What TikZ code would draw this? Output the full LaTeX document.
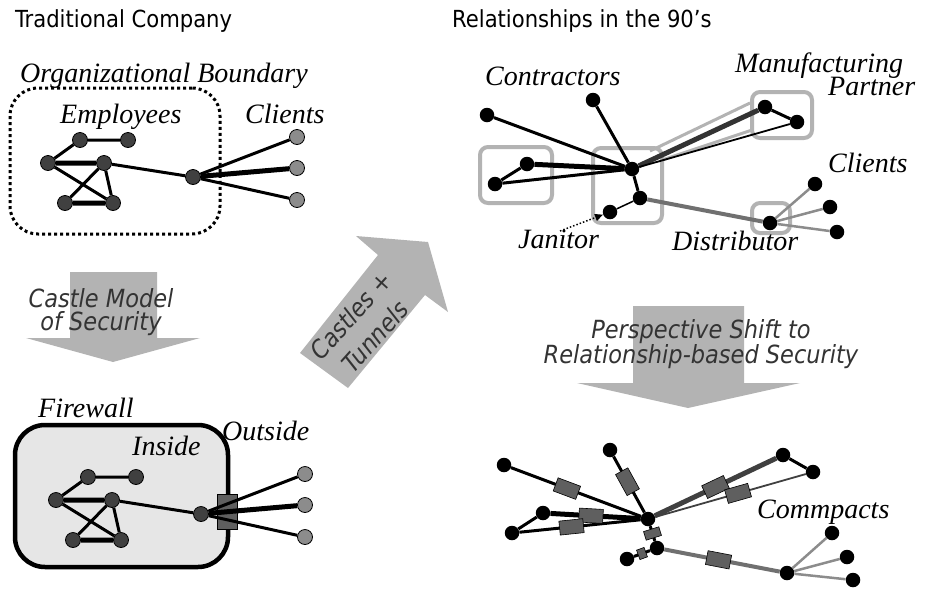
\documentclass[tikz,border=0pt]{standalone}
\usepackage{fontspec}
\setmainfont{Liberation Serif}
\newfontfamily\uifont{DejaVu Sans Condensed}
\usetikzlibrary{arrows.meta}

\definecolor{nodegray}{HTML}{404040}
\definecolor{clientgray}{HTML}{8C8C8C}
\definecolor{arrowgray}{HTML}{B3B3B3}
\definecolor{boxgray}{HTML}{B3B3B3}
\definecolor{textgray}{HTML}{333333}
\definecolor{fwfill}{HTML}{E6E6E6}
\definecolor{pactgray}{HTML}{5F5F5F}
\definecolor{darkline}{HTML}{333333}
\definecolor{distgray}{HTML}{707070}
\definecolor{cligray}{HTML}{8C8C8C}

\begin{document}
\begin{tikzpicture}[x=1pt, y=-1pt,
  emp/.style={circle, draw=black, line width=0.8, fill=nodegray, minimum size=15, inner sep=0},
  cli/.style={emp, fill=clientgray},
  blk/.style={circle, fill=black, minimum size=14.5, inner sep=0},
  edge/.style={line width=3},
  heavy/.style={line width=5},
  gbox/.style={draw=boxgray, line width=4, rounded corners=8, inner sep=0},
  tunnel/.style={draw=boxgray, line width=3},
  pact/.style={draw=black, line width=0.6, fill=pactgray, minimum width=24, minimum height=14, inner sep=0, sloped},
  lbl/.style={font=\fontsize{28}{31}\selectfont\itshape, inner sep=0, anchor=base west},
  ttl/.style={font=\uifont\fontsize{23.5}{28}\selectfont, inner sep=0, anchor=base west},
  atext/.style={font=\uifont\itshape\fontsize{25}{28}\selectfont, text=textgray, inner sep=0, anchor=base},
  bigarrow/.style={fill=arrowgray, draw=none},
  netpic/.pic={
    \node[emp] (-a1) at (80,140) {};
    \node[emp] (-a2) at (128,140) {};
    \node[emp] (-a3) at (48,163) {};
    \node[emp] (-a4) at (104,163) {};
    \node[emp] (-a5) at (65,203) {};
    \node[emp] (-a6) at (113,203) {};
    \node[emp] (-hub) at (193,177) {};
    \node[cli] (-c1) at (297,137) {};
    \node[cli] (-c2) at (297,168) {};
    \node[cli] (-c3) at (297,200) {};
    \draw[edge] (-a1) -- (-a2) (-a1) -- (-a3) (-a3) -- (-a6) (-a4) -- (-a5)
                (-a4) -- (-a6) (-a4) -- (-hub) (-hub) -- (-c1) (-hub) -- (-c3);
    \draw[heavy] (-a3) -- (-a4) (-a5) -- (-a6) (-hub) -- (-c2);
  }
]
\useasboundingbox (0,0) rectangle (927,590);

% ---------- titles ----------
\node[ttl] (t1) at (15,27) {Traditional Company};
\node[ttl] (t2) at (452,27) {Relationships in the 90’s};

% ---------- traditional company ----------
\node[draw, line width=3, dash pattern=on 3pt off 3pt, rounded corners=28,
      minimum width=210, minimum height=146, inner sep=0] (ob) at (115,161) {};
\pic (tn) at (0,0) {netpic};
\node[lbl] (obl) at (20,82) {Organizational Boundary};
\node[lbl] (empl) at (60,123) {Employees};
\node[lbl] (clil) at (245,123) {Clients};

% ---------- castle model arrow ----------
\fill[bigarrow] (70,272) -- (157,272) -- (157,338) -- (200,338) -- (113,362)
   -- (26,338) -- (70,338) -- cycle;
\node[atext] (cm1) at (101,307) {Castle Model};
\node[atext] (cm2) at (101,330) {of Security};

% ---------- firewall ----------
\node[draw, line width=4.5, fill=fwfill, rounded corners=30,
      minimum width=213, minimum height=142, inner sep=0] (fw) at (121.5,496) {};
\node[fill=pactgray, draw=black, line width=0.4, minimum width=20, minimum height=35,
      inner sep=0] (gate) at (227,512) {};
\pic (bn) at (8,337) {netpic};
\node[lbl] (fwl) at (38,417) {Firewall};
\node[lbl] (insl) at (132,455) {Inside};
\node[lbl] (outl) at (222,440) {Outside};

% ---------- castles + tunnels arrow ----------
\fill[bigarrow] (300,353) -- (378,255) -- (356,236) -- (428,242) -- (448,312)
   -- (425,295) -- (348,388) -- cycle;
\node[atext, anchor=center, rotate=48, align=center,
      font=\uifont\itshape\fontsize{25}{32}\selectfont] (ct) at (363,326)
      {Castles +\\Tunnels};

% ---------- relationships in the 90's ----------
\node[gbox, minimum width=72, minimum height=56] (kbox) at (516,175) {};
\node[gbox, minimum width=69, minimum height=75] (hbox) at (627.5,185.5) {};
\node[gbox, minimum width=60, minimum height=46] (mbox) at (782,115) {};
\node[gbox, minimum width=38, minimum height=30] (dbox) at (771,218) {};
\coordinate (tu1) at (650,151);
\coordinate (tu2) at (750,103);
\coordinate (tu3) at (662,160);
\coordinate (tu4) at (752,130);
\draw[tunnel] (tu1) -- (tu2);
\draw[tunnel] (tu3) -- (tu4);

\node[blk] (tH) at (632,169) {};
\node[blk] (tH2) at (640,198) {};
\node[blk] (tJ) at (610,212) {};
\node[blk] (tK1) at (487,115) {};
\node[blk] (tK2) at (593,100) {};
\node[blk] (tK3) at (527,164) {};
\node[blk] (tK4) at (495,184) {};
\node[blk] (tM1) at (765,107) {};
\node[blk] (tM2) at (797,122) {};
\node[blk] (tD) at (770,223) {};
\node[blk] (tC1) at (815,184) {};
\node[blk] (tC2) at (830,207) {};
\node[blk] (tC3) at (837,232) {};

\draw[edge] (tK1) -- (tH) (tK2) -- (tH) (tK4) -- (tH) (tK3) -- (tK4) (tH) -- (tH2) (tM1) -- (tM2);
\draw[heavy] (tK3) -- (tH);
\draw[line width=1.5] (tH2) -- (tJ);
\draw[line width=5, draw=darkline] (tH) -- (tM1);
\draw[line width=1.8] (tH) -- (tM2);
\draw[line width=4, draw=distgray] (tH2) -- (tD);
\draw[line width=2.5, draw=cligray] (tD) -- (tC1) (tD) -- (tC2) (tD) -- (tC3);

\node[lbl] (conl) at (485,85) {Contractors};
\node[lbl] (manl) at (735,72) {Manufacturing};
\node[lbl] (parl) at (828,95) {Partner};
\node[lbl] (cl2) at (828,172) {Clients};
\node[lbl] (janl) at (518,248) {Janitor};
\node[lbl] (disl) at (672,250) {Distributor};
\coordinate (jt) at (560,231);
\draw[line width=1.5, dotted, -{Triangle[length=8pt, width=7pt]}] (jt) -- (tJ);

% ---------- perspective shift arrow ----------
\fill[bigarrow] (633,306) -- (744,306) -- (744,383) -- (800,383) -- (688,408)
   -- (577,383) -- (633,383) -- cycle;
\node[atext] (ps1) at (701,338) {Perspective Shift to};
\node[atext] (ps2) at (701,363) {Relationship-based Security};

% ---------- commpacts ----------
\node[blk] (bH) at (648,519) {};
\node[blk] (bH2) at (657,548) {};
\node[blk] (bJ) at (627,559) {};
\node[blk] (bK1) at (504,465) {};
\node[blk] (bK2) at (610,450) {};
\node[blk] (bK3) at (543,513) {};
\node[blk] (bK4) at (512,533) {};
\node[blk] (bM1) at (783,455) {};
\node[blk] (bM2) at (813,472) {};
\node[blk] (bD) at (787,573) {};
\node[blk] (bC1) at (832,533) {};
\node[blk] (bC2) at (847,557) {};
\node[blk] (bC3) at (853,580) {};

\draw[edge] (bK1) -- (bH) (bK2) -- (bH) (bK4) -- (bH) (bK3) -- (bK4) (bH) -- (bH2) (bM1) -- (bM2) (bH2) -- (bJ);
\draw[heavy] (bK3) -- (bH);
\draw[line width=5, draw=nodegray] (bH) -- (bM1);
\draw[line width=1.8, draw=nodegray] (bH) -- (bM2);
\draw[line width=4, draw=distgray] (bH2) -- (bD);
\draw[line width=2.5, draw=cligray] (bD) -- (bC1) (bD) -- (bC2) (bD) -- (bC3);

\path (bK1) -- (bH) node[pact, pos=.43] (p1) {};
\path (bK2) -- (bH) node[pact, pos=.45] (p2) {};
\path (bK3) -- (bH) node[pact, pos=.45] (p3) {};
\path (bK4) -- (bH) node[pact, pos=.43] (p4) {};
\path (bH) -- (bM1) node[pact, pos=.5] (p5) {};
\path (bH) -- (bM2) node[pact, pos=.55] (p6) {};
\path (bH2) -- (bD) node[pact, pos=.47] (p7) {};
\path (bH) -- (bH2) node[pact, pos=.5, minimum width=9, minimum height=16] (p8) {};
\path (bH2) -- (bJ) node[pact, pos=.5, minimum width=8, minimum height=10] (p9) {};

\node[lbl] (cpl) at (757,518) {Commpacts};
\end{tikzpicture}
\end{document}
